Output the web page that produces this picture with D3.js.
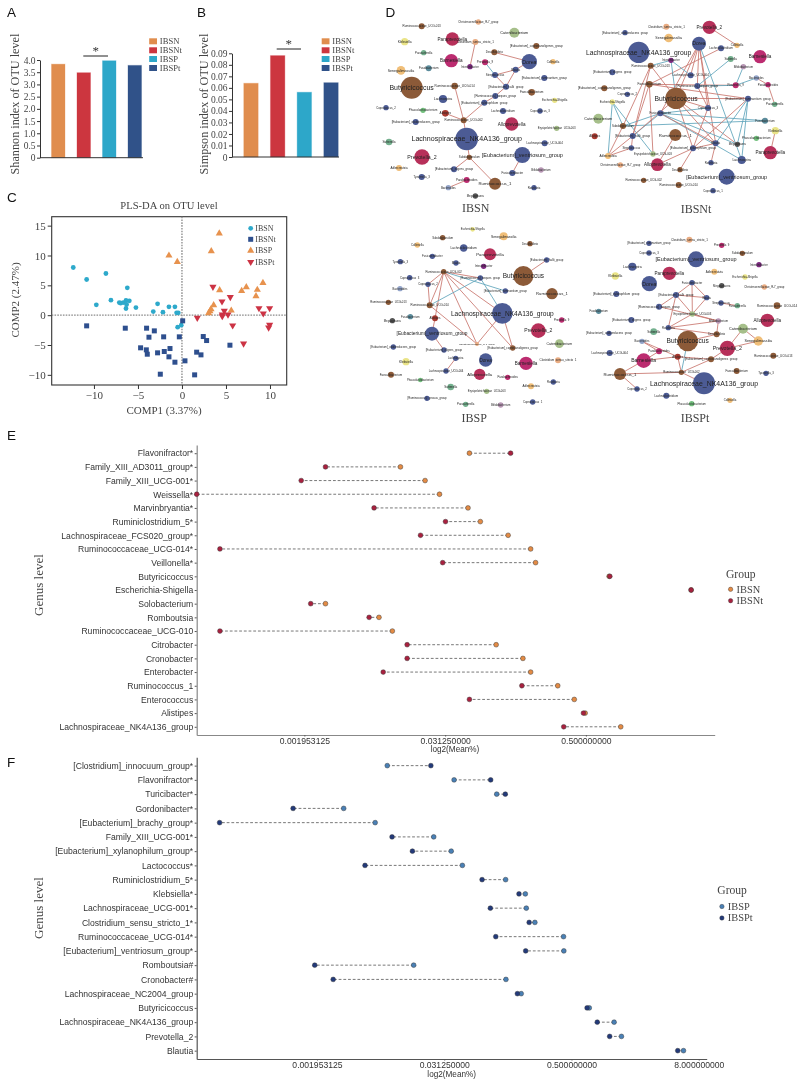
<!DOCTYPE html>
<html><head><meta charset="utf-8">
<script src="https://d3js.org/d3.v7.min.js"></script>
<style>html,body{margin:0;background:#fff}svg{display:block;filter:blur(0.3px)}</style></head>
<body><svg id="c" width="800" height="1079"></svg>
<script>
// ---------- A / B bars
const groups = ["IBSN","IBSNt","IBSP","IBSPt"];
const shannon = [3.83,3.48,3.97,3.78];
const simpson = [0.064,0.088,0.0562,0.0645];
const shannonTicks = [0,0.5,1,1.5,2,2.5,3,3.5,4];
const simpsonTicks = [0,0.01,0.02,0.03,0.04,0.05,0.06,0.07,0.08,0.09];
// ---------- C scores [COMP1, COMP2]
const plsIBSN = [[-12.35,7.99],[-10.83,5.98],[-8.64,6.98],[-9.73,1.73],[-8.07,2.51],[-6.21,4.58],[-7.12,2.12],[-6.97,2.01],[-6.67,2.12],[-6.36,2.46],[-5.98,2.40],[-6.29,1.79],[-6.36,1.12],[-5.23,1.28],[-3.26,0.61],[-2.77,1.90],[-2.16,0.50],[-1.48,1.40],[-0.80,1.40],[-0.61,0.39],[-0.42,0.39],[-0.49,-2.01],[-0.08,-1.68]];
const plsIBSNt = [[-10.83,-1.79],[-6.44,-2.18],[-4.02,-2.18],[-3.14,-2.63],[-3.75,-3.69],[-2.08,-3.63],[-0.30,-3.63],[0.08,-0.95],[-4.70,-5.47],[-4.05,-5.81],[-3.94,-6.54],[-2.77,-6.31],[-2.01,-6.09],[-1.36,-5.59],[-1.48,-6.98],[-0.80,-7.88],[0.34,-7.65],[-2.46,-9.89],[1.44,-10],[1.67,-6.2],[2.16,-6.65],[2.42,-3.58],[2.80,-4.25],[5.45,-5.03]];
const plsIBSP = [[4.24,13.69],[3.33,10.73],[-1.48,10],[-0.53,8.94],[4.28,4.19],[6.78,4.08],[7.31,4.69],[9.2,5.42],[8.56,4.25],[8.41,3.18],[3.6,1.68],[3.3,1.0],[3.18,0.67],[3.03,0.34],[5.6,0.78]];
const plsIBSPt = [[3.52,4.75],[5.49,3.02],[4.55,2.29],[1.74,-0.45],[4.81,0.73],[4.58,0.11],[4.58,-0.17],[5.23,0.11],[5.76,-1.73],[7.0,-4.75],[8.75,1.17],[9.24,0.28],[9.96,1.17],[9.96,-1.62],[9.85,-2.07]];
const plsXTicks = [-10,-5,0,5,10];
const plsYTicks = [-10,-5,0,5,10,15];
// ---------- D networks: [genus, layoutX, layoutY, abundance, taxon colour key]
const netIBSN = [
["Ruminococcaceae_UCG-013",140,79,9,"B"],["Christensenellaceae_R-7_group",310,66,8,"S"],["Catenibacterium",418,98,15,"G"],["Klebsiella",89,125,11,"Y"],["Paraprevotella",232,117,20,"C"],["Clostridium_sensu_stricto_1",301,126,9,"S"],["[Eubacterium]_coprostanoligenes_group",484,138,9,"B"],["Parasutterella",146,158,8,"T"],["Desulfovibrio",358,157,9,"B"],["Collinsella",534,185,8,"O"],["Barnesiella",229,182,20,"M"],["Prevotella_9",330,187,9,"M"],["Dorea",463,185,23,"L"],["Senegalimassilia",78,211,13,"O"],["Fusobacterium",161,205,9,"A"],["Intestinibacter",285,200,8,"P"],["Blautia",422,209,9,"L"],["Streptococcus",360,225,9,"L"],["[Eubacterium]_ruminantium_group",508,234,9,"L"],["Butyricicoccus",110,263,33,"B"],["Ruminococcaceae_UCG-014",239,258,10,"B"],["[Eubacterium]_hallii_group",393,260,9,"L"],["Faecalibacterium",470,277,10,"B"],["Escherichia-Shigella",539,301,8,"Y"],["[Ruminococcus]_torques_group",361,288,9,"L"],["Lachnospira",204,297,12,"L"],["Coprococcus_2",33,323,8,"L"],["[Eubacterium]_xylanophilum_group",328,308,9,"L"],["Phascolarctobacterium",144,331,8,"N"],["Lachnoclostridium",384,333,9,"L"],["Coprococcus_3",495,333,8,"L"],["Alistipes",211,340,10,"R"],["Ruminococcaceae_UCG-002",266,361,9,"B"],["[Eubacterium]_oxidoreducens_group",122,366,9,"L"],["Alloprevotella",410,372,20,"C"],["Erysipelotrichaceae_UCG-003",545,385,8,"G"],["Sutterella",42,426,10,"T"],["Lachnospiraceae_NK4A136_group",275,417,34,"L"],["Lachnospiraceae_UCG-004",509,430,9,"L"],["Prevotella_2",141,471,23,"C"],["Subdoligranulum",283,472,8,"B"],["[Eubacterium]_ventriosum_group",442,465,24,"L"],["Adlercreutzia",72,504,9,"O"],["[Eubacterium]_eligens_group",237,508,9,"L"],["Fusicatenibacter",412,519,9,"L"],["Bifidobacterium",498,510,8,"K"],["Tyzzerella_3",140,531,9,"L"],["Parabacteroides",275,540,9,"M"],["Ruminococcus_1",360,551,18,"B"],["Bacteroides",220,563,8,"V"],["Roseburia",477,563,8,"L"],["Megasphaera",301,588,8,"D"]];
const edgesIBSN = [
["Clostridium_sensu_stricto_1","Intestinibacter",0],["Desulfovibrio","Dorea",0],["Prevotella_9","Streptococcus",1],["Streptococcus","Blautia",0],["Blautia","Dorea",0],["Streptococcus","[Eubacterium]_hallii_group",0],["Blautia","[Eubacterium]_hallii_group",0],["[Eubacterium]_hallii_group","[Ruminococcus]_torques_group",0],["[Ruminococcus]_torques_group","[Eubacterium]_xylanophilum_group",0],["[Eubacterium]_xylanophilum_group","Ruminococcaceae_UCG-002",0],["Ruminococcaceae_UCG-014","Ruminococcaceae_UCG-002",0],["Alistipes","Ruminococcaceae_UCG-002",0],["Ruminococcaceae_UCG-002","Lachnospiraceae_NK4A136_group",0],["Lachnospiraceae_NK4A136_group","Subdoligranulum",0],["Subdoligranulum","[Eubacterium]_eligens_group",0],["Subdoligranulum","Ruminococcus_1",0],["Parabacteroides","Bacteroides",0],["[Eubacterium]_ventriosum_group","Fusicatenibacter",0]];
const netIBSNt = [
["Clostridium_sensu_stricto_1",244,80,9,"S"],["Prevotella_2",373,82,20,"C"],["[Eubacterium]_oxidoreducens_group",120,98,8,"L"],["Senegalimassilia",251,114,13,"O"],["Dorea",342,131,21,"L"],["Lachnoclostridium",408,145,9,"L"],["Collinsella",456,136,8,"O"],["Lachnospiraceae_NK4A136_group",161,157,32,"L"],["Barnesiella",525,170,20,"M"],["Intestinibacter",258,181,8,"P"],["Sutterella",437,177,9,"T"],["Ruminococcaceae_UCG-013",197,197,9,"B"],["Bifidobacterium",475,200,8,"K"],["[Eubacterium]_eligens_group",82,217,9,"L"],["Lachnospiraceae_UCG-004",317,226,9,"L"],["Bacteroides",514,234,8,"V"],["Faecalibacterium",193,253,10,"B"],["[Ruminococcus]_torques_group",337,258,9,"L"],["Prevotella_9",452,256,9,"M"],["Parabacteroides",549,254,8,"M"],["[Eubacterium]_coprostanoligenes_group",58,265,9,"B"],["Coprococcus_2",127,283,8,"L"],["Butyricicoccus",273,295,32,"B"],["[Eubacterium]_ruminantium_group",489,296,9,"L"],["Escherichia-Shigella",82,306,8,"Y"],["Parasutterella",569,313,8,"T"],["Coprococcus_3",369,324,9,"L"],["Fusicatenibacter",226,340,9,"L"],["Catenibacterium",40,356,15,"G"],["Fusobacterium",540,362,9,"A"],["Subdoligranulum",114,378,9,"B"],["Klebsiella",571,392,11,"Y"],["Alistipes",29,409,9,"R"],["[Eubacterium]_hallii_group",143,408,9,"L"],["Ruminococcus_1",271,405,18,"B"],["Phascolarctobacterium",514,415,8,"N"],["Blautia",392,430,9,"L"],["Megasphaera",457,433,8,"D"],["Streptococcus",139,444,8,"L"],["[Eubacterium]_xylanophilum_group",324,445,9,"L"],["Paraprevotella",556,458,20,"C"],["Erysipelotrichaceae_UCG-003",204,462,8,"G"],["Adlercreutzia",69,468,9,"O"],["Lachnospira",470,480,12,"L"],["Roseburia",378,488,8,"L"],["Christensenellaceae_R-7_group",106,495,8,"S"],["Alloprevotella",217,494,19,"C"],["Desulfovibrio",285,509,8,"B"],["[Eubacterium]_ventriosum_group",425,530,24,"L"],["Ruminococcaceae_UCG-002",176,541,8,"B"],["Ruminococcaceae_UCG-014",281,555,9,"B"],["Coprococcus_1",384,572,8,"L"]];
const edgesIBSNt = [
["Prevotella_2","Collinsella",0],["Dorea","Butyricicoccus",0],["Dorea","Fusicatenibacter",0],["Dorea","Coprococcus_3",0],["Dorea","Blautia",0],["Dorea","[Ruminococcus]_torques_group",0],["Dorea","Lachnospiraceae_UCG-004",0],["Lachnoclostridium","Faecalibacterium",0],["Ruminococcaceae_UCG-013","Intestinibacter",1],["Ruminococcaceae_UCG-013","Butyricicoccus",0],["Ruminococcaceae_UCG-013","[Eubacterium]_hallii_group",0],["Ruminococcaceae_UCG-013","Subdoligranulum",0],["Intestinibacter","Lachnospiraceae_UCG-004",1],["Intestinibacter","Butyricicoccus",1],["Sutterella","[Ruminococcus]_torques_group",1],["Faecalibacterium","Prevotella_9",0],["[Ruminococcus]_torques_group","Prevotella_9",1],["Prevotella_9","Bacteroides",1],["Bifidobacterium","Prevotella_9",1],["Butyricicoccus","[Eubacterium]_ruminantium_group",0],["Butyricicoccus","Megasphaera",0],["Butyricicoccus","[Eubacterium]_xylanophilum_group",0],["Fusicatenibacter","Fusobacterium",1],["Subdoligranulum","Fusobacterium",1],["Subdoligranulum","Fusicatenibacter",1],["Escherichia-Shigella","Adlercreutzia",1],["Escherichia-Shigella","Subdoligranulum",1],["Escherichia-Shigella","Erysipelotrichaceae_UCG-003",1],["[Eubacterium]_hallii_group","Adlercreutzia",0],["Subdoligranulum","Adlercreutzia",0],["Streptococcus","Adlercreutzia",0],["Fusicatenibacter","[Eubacterium]_hallii_group",1],["Butyricicoccus","[Eubacterium]_hallii_group",0],["Dorea","Lachnospira",1],["[Eubacterium]_xylanophilum_group","[Eubacterium]_ruminantium_group",0],["[Eubacterium]_ruminantium_group","Blautia",1],["[Eubacterium]_ruminantium_group","Megasphaera",1],["[Eubacterium]_ruminantium_group","Lachnospira",1],["Fusicatenibacter","Lachnospira",1],["Fusicatenibacter","Megasphaera",1],["Faecalibacterium","[Eubacterium]_hallii_group",0],["Erysipelotrichaceae_UCG-003","Faecalibacterium",0],["Coprococcus_3","[Eubacterium]_xylanophilum_group",0],["Coprococcus_3","Fusicatenibacter",1],["Coprococcus_3","[Ruminococcus]_torques_group",0],["Ruminococcus_1","Alloprevotella",0],["Blautia","Roseburia",0],["[Eubacterium]_xylanophilum_group","Desulfovibrio",0],["Butyricicoccus","Coprococcus_3",0],["[Eubacterium]_xylanophilum_group","Blautia",0],["Butyricicoccus","Blautia",0],["Klebsiella","Paraprevotella",0],["Bacteroides","Parabacteroides",0],["Parabacteroides","Parasutterella",0],["Streptococcus","[Eubacterium]_hallii_group",0],["[Eubacterium]_xylanophilum_group","Alloprevotella",0],["Faecalibacterium","[Eubacterium]_ruminantium_group",0],["Fusicatenibacter","Blautia",0]];
const netIBSP = [
["Escherichia-Shigella",293,58,7,"Y"],["Senegalimassilia",386,79,12,"O"],["Subdoligranulum",203,83,8,"B"],["Collinsella",127,105,8,"O"],["Desulfovibrio",465,101,8,"B"],["Lachnoclostridium",266,114,11,"L"],["Paraprevotella",345,133,18,"C"],["Fusicatenibacter",172,139,8,"L"],["Tyzzerella_3",76,155,8,"L"],["Blautia",243,159,8,"L"],["Intestinibacter",326,169,8,"P"],["[Eubacterium]_hallii_group",515,150,8,"L"],["Ruminococcaceae_UCG-002",206,185,8,"B"],["Butyricicoccus",445,198,30,"B"],["Coprococcus_3",104,203,8,"L"],["[Ruminococcus]_torques_group",316,204,8,"L"],["Coprococcus_2",159,223,8,"L"],["Bacteroides",75,236,8,"V"],["[Eubacterium]_ruminantium_group",391,243,8,"L"],["Ruminococcus_1",531,251,17,"B"],["Ruminococcaceae_UCG-013",40,277,8,"B"],["Ruminococcaceae_UCG-014",164,286,9,"B"],["Lachnospiraceae_NK4A136_group",382,310,31,"L"],["Fusobacterium",106,320,8,"A"],["Alistipes",180,325,9,"R"],["Megasphaera",52,332,8,"D"],["Prevotella_9",560,330,8,"M"],["Prevotella_2",490,362,22,"C"],["[Eubacterium]_ventriosum_group",171,371,21,"L"],["Christensenellaceae_R-7_group",306,402,6,"S"],["[Eubacterium]_coprostanoligenes_group",413,414,8,"B"],["Catenibacterium",553,401,13,"G"],["[Eubacterium]_oxidoreducens_group",55,411,8,"L"],["[Eubacterium]_eligens_group",207,420,8,"L"],["Lachnospira",242,445,8,"L"],["Dorea",332,450,20,"L"],["Barnesiella",453,460,20,"M"],["Clostridium_sensu_stricto_1",549,451,9,"S"],["Klebsiella",93,455,11,"Y"],["Lachnospiraceae_UCG-004",213,483,8,"L"],["Alloprevotella",314,493,17,"C"],["Faecalibacterium",48,494,9,"B"],["Parabacteroides",398,502,8,"M"],["Phascolarctobacterium",136,510,7,"N"],["Adlercreutzia",468,529,9,"O"],["Roseburia",535,516,8,"L"],["Sutterella",227,531,10,"T"],["Erysipelotrichaceae_UCG-003",335,544,8,"G"],["[Ruminococcus]_gnavus_group",156,565,8,"L"],["Parasutterella",272,583,8,"T"],["Bifidobacterium",377,585,8,"K"],["Coprococcus_1",473,576,8,"L"]];
const edgesIBSP = [
["Ruminococcaceae_UCG-002","[Ruminococcus]_torques_group",0],["Ruminococcaceae_UCG-002","[Eubacterium]_ruminantium_group",1],["Ruminococcaceae_UCG-002","Lachnospiraceae_NK4A136_group",0],["Ruminococcaceae_UCG-002","Christensenellaceae_R-7_group",0],["Ruminococcaceae_UCG-002","Ruminococcaceae_UCG-014",0],["Ruminococcaceae_UCG-002","Coprococcus_2",0],["Ruminococcaceae_UCG-002","Alistipes",0],["Ruminococcaceae_UCG-002","[Eubacterium]_coprostanoligenes_group",0],["Ruminococcaceae_UCG-014","[Ruminococcus]_torques_group",1],["[Ruminococcus]_torques_group","Lachnospiraceae_NK4A136_group",1],["Butyricicoccus","[Eubacterium]_hallii_group",0],["Ruminococcaceae_UCG-014","Christensenellaceae_R-7_group",0],["Alistipes","[Eubacterium]_ventriosum_group",0],["[Eubacterium]_ventriosum_group","[Eubacterium]_eligens_group",0],["Christensenellaceae_R-7_group","Lachnospiraceae_NK4A136_group",0],["Lachnospiraceae_NK4A136_group","[Eubacterium]_coprostanoligenes_group",0],["Lachnospira","Lachnospiraceae_UCG-004",0],["Coprococcus_2","Ruminococcaceae_UCG-014",0]];
const netIBSPt = [
["Clostridium_sensu_stricto_1",313,89,9,"S"],["[Eubacterium]_ruminantium_group",192,100,8,"L"],["Coprococcus_3",192,129,8,"L"],["Prevotella_9",410,106,8,"M"],["Subdoligranulum",472,130,8,"B"],["[Eubacterium]_ventriosum_group",333,148,24,"L"],["Lachnospira",142,170,12,"L"],["Intestinibacter",522,164,8,"P"],["Paraprevotella",253,190,20,"C"],["Klebsiella",91,198,11,"Y"],["Adlercreutzia",388,185,9,"O"],["Escherichia-Shigella",480,201,8,"Y"],["Dorea",193,221,23,"L"],["Fusicatenibacter",321,218,8,"L"],["Megasphaera",410,227,8,"D"],["Christensenellaceae_R-7_group",538,231,8,"S"],["[Eubacterium]_hallii_group",273,255,9,"L"],["Blautia",365,263,8,"L"],["[Eubacterium]_xylanophilum_group",94,252,9,"L"],["Streptococcus",408,279,8,"L"],["Parasutterella",457,287,8,"T"],["Ruminococcaceae_UCG-014",576,287,10,"B"],["[Ruminococcus]_torques_group",222,290,9,"L"],["Fusobacterium",41,304,8,"A"],["Erysipelotrichaceae_UCG-003",322,312,8,"G"],["[Eubacterium]_eligens_group",139,330,9,"L"],["Alloprevotella",547,331,20,"C"],["Bifidobacterium",400,333,8,"K"],["Roseburia",250,353,8,"L"],["Sutterella",206,365,10,"T"],["[Eubacterium]_oxidoreducens_group",72,370,8,"L"],["Catenibacterium",474,356,15,"G"],["Desulfovibrio",395,373,9,"B"],["Senegalimassilia",520,393,14,"O"],["Bacteroides",171,394,8,"V"],["Butyricicoccus",308,393,31,"B"],["Prevotella_2",427,415,23,"C"],["Parabacteroides",222,424,9,"M"],["Lachnospiraceae_UCG-004",74,429,9,"L"],["Ruminococcaceae_UCG-013",565,437,9,"B"],["Alistipes",278,440,9,"R"],["[Eubacterium]_coprostanoligenes_group",378,448,9,"B"],["Barnesiella",176,452,22,"M"],["Faecalibacterium",455,483,9,"B"],["Ruminococcaceae_UCG-002",289,487,8,"B"],["Tyzzerella_3",543,490,8,"L"],["Ruminococcus_1",105,492,18,"B"],["Lachnospiraceae_NK4A136_group",357,520,33,"L"],["Coprococcus_2",156,537,8,"L"],["Lachnoclostridium",244,557,9,"L"],["Phascolarctobacterium",320,581,8,"N"],["Collinsella",435,571,8,"O"]];
const edgesIBSPt = [
["Fusicatenibacter","[Eubacterium]_hallii_group",0],["Fusicatenibacter","Blautia",0],["[Eubacterium]_hallii_group","Blautia",0],["[Eubacterium]_hallii_group","[Ruminococcus]_torques_group",0],["Fusicatenibacter","Erysipelotrichaceae_UCG-003",0],["[Eubacterium]_hallii_group","Erysipelotrichaceae_UCG-003",0],["Blautia","Erysipelotrichaceae_UCG-003",0],["[Ruminococcus]_torques_group","Bifidobacterium",0],["[Eubacterium]_hallii_group","Roseburia",0],["Erysipelotrichaceae_UCG-003","Roseburia",0],["Erysipelotrichaceae_UCG-003","Bifidobacterium",0],["Roseburia","Bifidobacterium",0],["Bifidobacterium","Desulfovibrio",0],["Roseburia","Desulfovibrio",0],["Streptococcus","Parasutterella",0],["Catenibacterium","Senegalimassilia",0],["Catenibacterium","Prevotella_2",0],["Prevotella_2","Senegalimassilia",0],["Desulfovibrio","Butyricicoccus",0],["Bacteroides","Alistipes",0],["Bacteroides","Parabacteroides",0],["Parabacteroides","Barnesiella",0],["Barnesiella","Alistipes",0],["Alistipes","Ruminococcaceae_UCG-002",0],["Butyricicoccus","Ruminococcaceae_UCG-002",1],["Ruminococcaceae_UCG-002","[Eubacterium]_coprostanoligenes_group",0],["Ruminococcaceae_UCG-002","Lachnospiraceae_NK4A136_group",0],["[Eubacterium]_coprostanoligenes_group","Prevotella_2",0],["Barnesiella","Ruminococcus_1",0],["Ruminococcus_1","Ruminococcaceae_UCG-002",0],["Ruminococcus_1","Coprococcus_2",0],["Alistipes","[Eubacterium]_coprostanoligenes_group",0]];
const taxonKeys = ["B","L","C","M","O","S","G","T","Y","D","P","R","K","A","V","N"];
const taxonColors = ["#8C5A38","#4C5B94","#B7305A","#BC2C70","#F0BE78","#E9AC82","#A6BF8A","#74B08E","#EAE488","#555555","#7D2A80","#A93A30","#B796B4","#5B8C9C","#93A4C9","#73C07E"];
// ---------- E dumbbells (log2 of mean %)
const genusE = ["Flavonifractor*","Family_XIII_AD3011_group*","Family_XIII_UCG-001*","Weissella*","Marvinbryantia*","Ruminiclostridium_5*","Lachnospiraceae_FCS020_group*","Ruminococcaceae_UCG-014*","Veillonella*","Butyricicoccus","Escherichia-Shigella","Solobacterium","Romboutsia","Ruminococcaceae_UCG-010","Citrobacter","Cronobacter","Enterobacter","Ruminococcus_1","Enterococcus","Alistipes","Lachnospiraceae_NK4A136_group"];
const log2IBSN = [-4.31,-6.27,-5.57,-5.16,-4.35,-4.0,-3.21,-2.57,-2.43,-0.34,1.99,-8.40,-6.88,-6.5,-3.55,-2.79,-2.57,-1.80,-1.33,-1.02,-0.01];
const log2IBSNt = [-3.14,-8.40,-9.09,-12.06,-7.02,-4.99,-5.70,-11.40,-5.07,-0.32,1.99,-8.82,-7.16,-11.40,-6.08,-6.08,-6.76,-2.82,-4.31,-1.07,-1.63];
// ---------- F dumbbells
const genusF = ["[Clostridium]_innocuum_group*","Flavonifractor*","Turicibacter*","Gordonibacter*","[Eubacterium]_brachy_group*","Family_XIII_UCG-001*","[Eubacterium]_xylanophilum_group*","Lactococcus*","Ruminiclostridium_5*","Klebsiella*","Lachnospiraceae_UCG-001*","Clostridium_sensu_stricto_1*","Ruminococcaceae_UCG-014*","[Eubacterium]_ventriosum_group*","Romboutsia#","Cronobacter#","Lachnospiraceae_NC2004_group","Butyricicoccus","Lachnospiraceae_NK4A136_group","Prevotella_2","Blautia"];
const log2IBSP = [-6.79,-4.69,-3.35,-8.16,-7.17,-5.33,-4.78,-4.43,-3.07,-2.45,-2.42,-2.15,-1.25,-1.24,-5.96,-3.06,-2.58,-0.44,0.34,0.57,2.52];
const log2IBSPt = [-5.42,-3.54,-3.08,-9.75,-12.06,-6.64,-6.0,-7.49,-3.81,-2.65,-3.55,-2.33,-3.38,-2.44,-9.07,-8.49,-2.70,-0.51,-0.19,0.20,2.34];
const log2Ticks = [-9,-5,-1,3];
const log2TickLabels = ["0.001953125","0.031250000","0.500000000","8.000000000"];

const SANS = "'Liberation Sans',Arial,sans-serif", SERIF = "'Liberation Serif','Times New Roman',serif";
const svg = d3.select("#c");
const text = (x,y,s,o={}) => { const t = svg.append("text").attr("x",x).attr("y",y).text(s)
  .attr("font-family",o.font||SERIF).attr("font-size",o.size||10).attr("fill",o.fill||"#444")
  .attr("text-anchor",o.anchor||"start");
  if(o.rotate) t.attr("transform",`rotate(-90 ${x} ${y})`);
  return t; };

[["A",7,17],["B",197,17],["C",7,201.5],["D",385.5,17],["E",7,440],["F",7,767]].forEach(d=>text(d[1],d[2],d[0],{font:SANS,size:13.5,fill:"#111"}));

// ---------- bars
const barColors = d3.scaleOrdinal(groups,["#E08D4E","#CC363F","#2DA7C9","#305289"]);
function bars(vals,ticks,fmt,cfg){
  const x = d3.scaleBand(groups,cfg.band).padding(cfg.pad);
  const y = d3.scaleLinear([0,ticks[ticks.length-1]],cfg.y);
  svg.selectAll(null).data(vals).join("rect")
    .attr("x",(d,i)=>x(groups[i])).attr("width",x.bandwidth())
    .attr("y",d=>y(d)).attr("height",d=>y(0)-y(d))
    .attr("fill",(d,i)=>barColors(groups[i])).attr("stroke",(d,i)=>barColors(groups[i])).attr("stroke-opacity",.3);
  const g = svg.append("g").attr("transform",`translate(${cfg.axisX},0)`)
    .call(d3.axisLeft(y).tickValues(ticks).tickFormat(fmt).tickSize(3).tickPadding(1.5).tickSizeOuter(0));
  g.selectAll("text").attr("font-family",SERIF).attr("font-size",cfg.tickSize).attr("fill","#444");
  g.selectAll("path,line").attr("stroke","#333");
  svg.append("line").attr("x1",cfg.axisX).attr("x2",cfg.axisEnd).attr("y1",y(0)).attr("y2",y(0)).attr("stroke","#333").attr("stroke-width",1);
  svg.append("line").attr("x1",cfg.sig[0]).attr("x2",cfg.sig[1]).attr("y1",cfg.sig[2]).attr("y2",cfg.sig[2]).attr("stroke","#222").attr("stroke-width",1);
  text((cfg.sig[0]+cfg.sig[1])/2,cfg.sig[2]-1,"*",{size:13,anchor:"middle",fill:"#333"});
  text(cfg.title[0],cfg.title[1],cfg.title[2],{size:12.2,anchor:"middle",rotate:true});
  groups.forEach((g,i)=>{
    const yy=[41.3,50.3,59,68][i];
    svg.append("rect").attr("x",cfg.legX).attr("y",yy-3).attr("width",7.8).attr("height",6).attr("fill",barColors(g));
    text(cfg.legX+10.6,yy+2.7,g,{size:8.6});
  });
}
bars(shannon,shannonTicks,d=>d===0?"0":d.toFixed(1),{band:[39.5,153.5],pad:.47,y:[157.7,60],axisX:40,axisEnd:143,tickSize:9.5,sig:[83.3,108,56],title:[19,104,"Shannon index of OTU level"],legX:149.2});
bars(simpson,simpsonTicks,d=>d===0?"0":d.toFixed(2),{band:[231.5,350.5],pad:.46,y:[157,53.3],axisX:232,axisEnd:339,tickSize:9.5,sig:[276.7,301,49],title:[208,104,"Simpson index of OTU level"],legX:321.7});

// ---------- C
const px = d3.scaleLinear([-14.8,11.9],[51.7,286.7]), py = d3.scaleLinear([-11.7,16.5],[385,216.7]);
svg.append("rect").attr("x",51.7).attr("y",216.7).attr("width",235).attr("height",168.3).attr("fill","none").attr("stroke","#333").attr("stroke-width",1.1);
svg.append("line").attr("x1",px(0)).attr("x2",px(0)).attr("y1",216.7).attr("y2",385).attr("stroke","#8a8a8a").attr("stroke-width",1.3).attr("stroke-dasharray","1.6 1.2");
svg.append("line").attr("x1",51.7).attr("x2",286.7).attr("y1",py(0)).attr("y2",py(0)).attr("stroke","#8a8a8a").attr("stroke-width",1.3).attr("stroke-dasharray","1.6 1.2");
const fmtMinus = d=>d<0?"\u2212"+Math.abs(d):""+d;
const gx = svg.append("g").attr("transform","translate(0,385)").call(d3.axisBottom(px).tickValues(plsXTicks).tickFormat(fmtMinus).tickSize(4).tickPadding(2).tickSizeOuter(0));
const gy = svg.append("g").attr("transform","translate(51.7,0)").call(d3.axisLeft(py).tickValues(plsYTicks).tickFormat(fmtMinus).tickSize(4).tickPadding(2).tickSizeOuter(0));
[gx,gy].forEach(g=>{g.select(".domain").remove();g.selectAll("line").attr("stroke","#333");g.selectAll("text").attr("font-family",SERIF).attr("font-size",11).attr("fill","#444");});
text(169,209.3,"PLS-DA on OTU level",{size:10.6,anchor:"middle"});
text(164,414,"COMP1 (3.37%)",{size:11,anchor:"middle"});
text(19,300,"COMP2 (2.47%)",{size:11,anchor:"middle",rotate:true});
const plsSeries = [
 {name:"IBSN",data:plsIBSN,color:"#2DA9CB",sym:d3.symbolCircle,size:18,rot:0},
 {name:"IBSNt",data:plsIBSNt,color:"#2E4F8E",sym:d3.symbolSquare,size:25,rot:0},
 {name:"IBSP",data:plsIBSP,color:"#E7924E",sym:d3.symbolTriangle,size:22,rot:0},
 {name:"IBSPt",data:plsIBSPt,color:"#CC3344",sym:d3.symbolTriangle,size:22,rot:180}];
plsSeries.forEach((s,k)=>{
  const path = d3.symbol(s.sym,s.size)();
  svg.append("g").selectAll("path").data(s.data).join("path").attr("d",path).attr("fill",s.color)
    .attr("transform",d=>`translate(${px(d[0])},${py(d[1])}) rotate(${s.rot})`);
  const ly=[228.3,239.3,250.7,262][k];
  svg.append("path").attr("d",path).attr("fill",s.color).attr("transform",`translate(250.7,${ly}) rotate(${s.rot})`);
  text(255.3,ly+2.7,s.name,{size:8});
});

// ---------- D
const taxonColor = d3.scaleOrdinal(taxonKeys,taxonColors);
const nodeR = d3.scaleLinear([0,645],[0,215]);
const labelSize = d3.scaleLinear([6,8,20,24,34],[2.5,2.8,4.6,5.5,7.1]);
function network(nodes,edges,ox,oy,title,tx,ty){
  const x = d3.scaleLinear([0,645],[ox,ox+215]), y = d3.scaleLinear([0,645],[oy,oy+215]);
  const byName = new Map(nodes.map(n=>[n[0],n]));
  svg.append("g").selectAll("line").data(edges).join("line")
    .attr("x1",e=>x(byName.get(e[0])[1])).attr("y1",e=>y(byName.get(e[0])[2]))
    .attr("x2",e=>x(byName.get(e[1])[1])).attr("y2",e=>y(byName.get(e[1])[2]))
    .attr("stroke",e=>e[2]?"#5FA4BA":"#C9766E").attr("stroke-width",.85);
  svg.append("g").selectAll("circle").data(nodes).join("circle")
    .attr("cx",n=>x(n[1])).attr("cy",n=>y(n[2])).attr("r",n=>nodeR(n[3])).attr("fill",n=>taxonColor(n[4]));
  svg.append("g").selectAll("text").data(nodes).join("text")
    .attr("x",n=>x(n[1])).attr("y",n=>y(n[2])+labelSize(n[3])*.35).text(n=>n[0])
    .attr("text-anchor","middle").attr("font-family",SANS).attr("font-size",n=>labelSize(n[3])).attr("fill","#222");
  text(tx,ty,title,{size:12,anchor:"middle"});
}
network(netIBSN,edgesIBSN,375,0,"IBSN",475.7,212);
network(netIBSNt,edgesIBSNt,585,0,"IBSNt",696,213);
network(netIBSP,edgesIBSP,375,210,"IBSP",474.3,421.7);
network(netIBSPt,edgesIBSPt,585,210,"IBSPt",695,421.7);

// ---------- E / F
function dumbbell(genus,a,b,colA,colB,names,cfg){
  const y = d3.scalePoint(genus,cfg.yr).padding(cfg.pad);
  const x = d3.scaleLinear(cfg.dom,cfg.xr);
  const rows = genus.map((g,i)=>({g,a:a[i],b:b[i]}));
  const ay = svg.append("g").attr("transform",`translate(${cfg.xr[0]},0)`).call(d3.axisLeft(y).tickSize(2).tickPadding(1.5).tickSizeOuter(0));
  const ticks = log2Ticks.filter(t=>t<=cfg.dom[1]);
  const ax = svg.append("g").attr("transform",`translate(0,${cfg.yr[1]})`).call(d3.axisBottom(x).tickValues(ticks).tickFormat(d=>log2TickLabels[log2Ticks.indexOf(d)]).tickSize(1.5).tickPadding(1).tickSizeOuter(0));
  [ax,ay].forEach(g=>{g.selectAll("text").attr("font-family",SANS).attr("font-size",8.6).attr("fill","#333");
    g.selectAll("line").attr("stroke","#555");g.select(".domain").attr("stroke",cfg.axisColor).attr("stroke-width",1.2);});
  svg.append("g").selectAll("line").data(rows).join("line").attr("x1",d=>x(d.a)).attr("x2",d=>x(d.b)).attr("y1",d=>y(d.g)).attr("y2",d=>y(d.g))
    .attr("stroke","#555").attr("stroke-width",.8).attr("stroke-dasharray","2.8 1.9");
  [[a,colA,"a"],[b,colB,"b"]].forEach(s=>{
    svg.append("g").selectAll("circle").data(rows).join("circle").attr("cx",d=>x(d[s[2]])).attr("cy",d=>y(d.g)).attr("r",2.4)
      .attr("fill",s[1]).attr("stroke","#333").attr("stroke-width",.45);
  });
  text(cfg.labelX,cfg.labelY,"log2(Mean%)",{font:SANS,size:8.2,anchor:"middle",fill:"#333"});
  text(43,cfg.gy,"Genus level",{size:13,anchor:"middle",rotate:true});
  text(cfg.leg[0],cfg.leg[1],"Group",{size:11.6});
  names.forEach((n,i)=>{
    const ly=cfg.leg[2+i];
    svg.append("circle").attr("cx",cfg.leg[0]+4.6).attr("cy",ly).attr("r",2.2).attr("fill",i?colB:colA).attr("stroke","#333").attr("stroke-width",.4);
    text(cfg.leg[0]+10.5,ly+3.4,n,{size:10.4});
  });
}
dumbbell(genusE,log2IBSN,log2IBSNt,"#E38B45","#A8213F",["IBSN","IBSNt"],{yr:[445,735],pad:.6,xr:[196.7,714.7],dom:[-12.06,2.66],axisColor:"#888",labelX:455,labelY:752,gy:585,leg:[726,577.7,589.3,600.7]});
dumbbell(genusF,log2IBSP,log2IBSPt,"#4A80B5","#233A7A",["IBSP","IBSPt"],{yr:[757.3,1059],pad:.585,xr:[196.7,706.7],dom:[-12.78,3.25],axisColor:"#555",labelX:451.7,labelY:1077.3,gy:908,leg:[717.3,894,906.5,918]});
</script></body></html>
